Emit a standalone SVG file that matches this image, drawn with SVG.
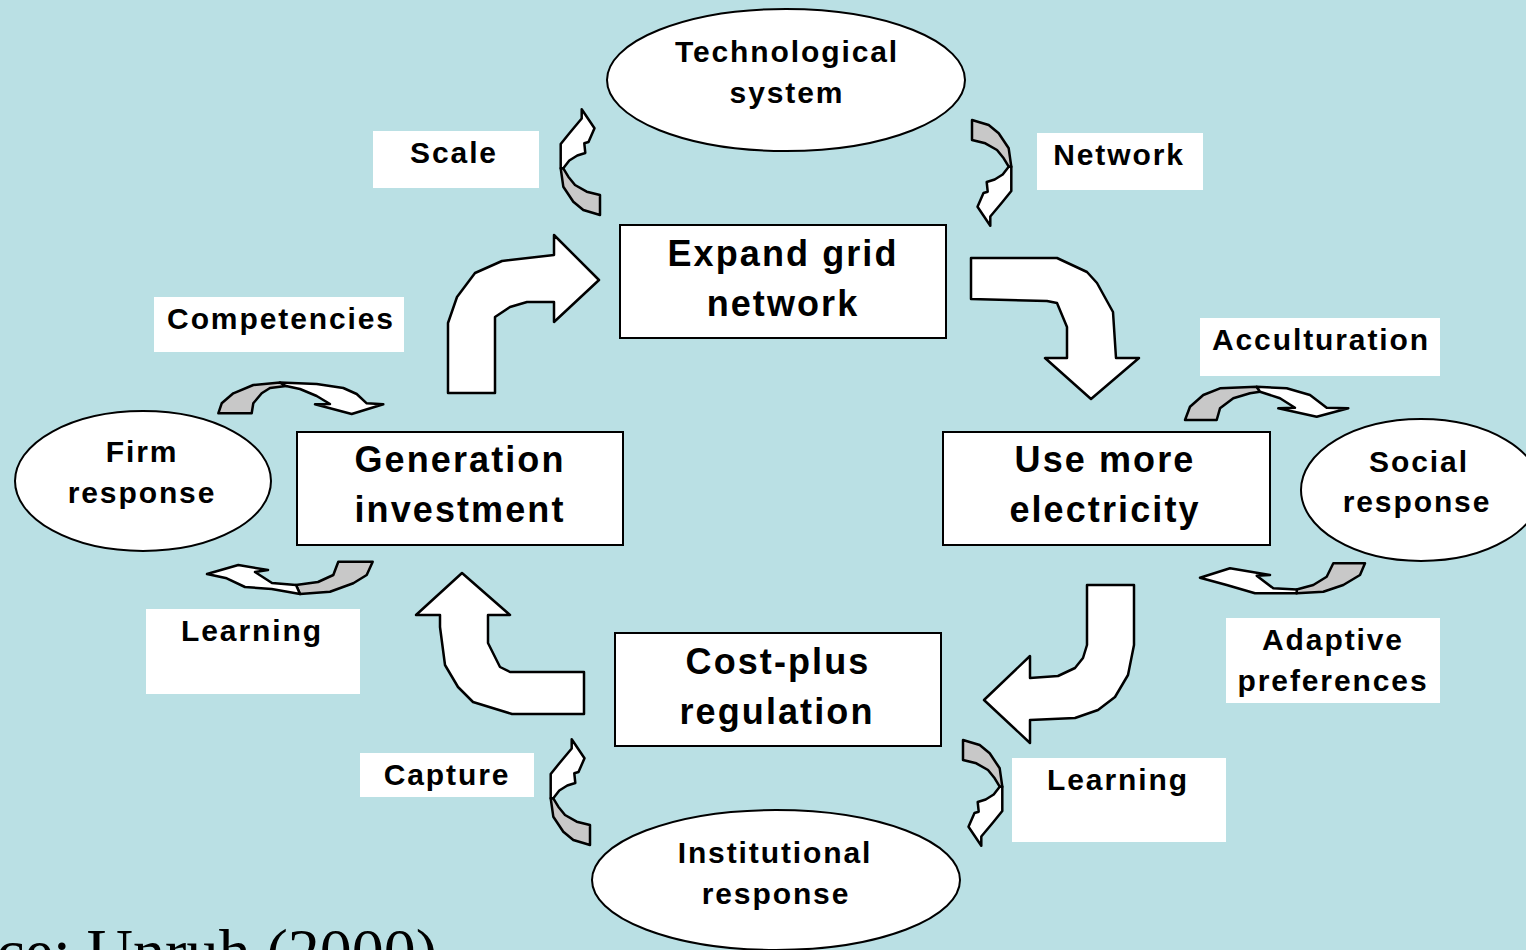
<svg xmlns="http://www.w3.org/2000/svg" width="1526" height="950" viewBox="0 0 1526 950">
<style>
.bg{fill:#BAE0E4}
.box{fill:#fff;stroke:#000;stroke-width:2}
.lbl{fill:#fff}
.ell{fill:#fff;stroke:#000;stroke-width:2}
.big{fill:#fff;stroke:#000;stroke-width:2.5;stroke-linejoin:round}
.cw{fill:#fff;stroke:#000;stroke-width:2.5;stroke-linejoin:round}
.cg{fill:#C8C8C8;stroke:#000;stroke-width:2.5;stroke-linejoin:round}
text{font-family:"Liberation Sans",Arial,sans-serif;font-weight:bold;fill:#000;text-anchor:middle}
.t30{font-size:30px;letter-spacing:1.9px}
.t36{font-size:36px;letter-spacing:2.1px}
.src{font-family:"Liberation Serif","Times New Roman",serif;font-weight:normal;font-size:64px;text-anchor:end;letter-spacing:0}
</style>
<defs>
<g id="curl">
<polygon class="cg" points="0.7,59.3 3.3,77.7 13.3,92.7 23.3,101 40,106 40,86 26.7,82.7 15,76 8.3,67.7 3.3,59.3"/>
<polygon class="cw" points="21.7,0.3 34.5,19.3 28.5,33 24.3,34.3 25.3,44 17.3,46.5 9.3,51.5 3.3,59.3 0.7,59.3 0.7,35 10,23.5 21.7,9.5"/>
</g>
</defs>
<rect class="bg" x="0" y="0" width="1526" height="950"/>

<g id="connectors">
<path class="big" d="M448,393 L448,323 L457,297 L475,273 L502,261 L554,255 L554,235 L599,280 L554,322 L554,302 L527,302 L510,307 L495,317 L495,393 Z"/>
<path class="big" d="M971,258 L1057,258 L1087,272 L1097,283 L1113,312 L1116,358 L1139,358 L1091,399 L1045,358 L1067,358 L1067,327 L1057,303 L1047,301 L971,299 Z"/>
<path class="big" d="M1087,585 L1134,585 L1134,645 L1128,675 L1115,697 L1098,710 L1075,718 L1030,720 L1030,743 L984,700 L1030,656 L1030,678 L1058,676 L1075,668 L1083,658 L1087,645 Z"/>
<path class="big" d="M584,672 L584,714 L512,714 L473,702 L458,687 L445,665 L440,627 L440,615 L416,615 L462,573 L510,615 L488,615 L488,643 L500,667 L510,672 Z"/>
<use href="#curl" transform="translate(560,109)"/>
<use href="#curl" transform="translate(550,739)"/>
<use href="#curl" transform="translate(1012,226) rotate(180)"/>
<use href="#curl" transform="translate(1003,846) rotate(180)"/>
<g id="firm-top">
<polygon class="cg" points="218.3,413.3 221.7,403.3 233.3,393.3 253.3,385 280,382.5 286,386 270,388 261.7,393.3 253.3,403.3 251.7,413.3"/>
<polygon class="cw" points="280,382.5 316.7,384 343.3,388 356.7,394 366.7,403.3 383.3,404.3 351.7,414 315,404.3 330,404 316.7,396 300,389 286,386"/>
</g>
<g id="firm-bottom">
<polygon class="cg" points="338.3,561.7 372.7,561.7 366.7,575 353.3,583.3 330,591.7 300,594 296,585 318,582 333.3,575"/>
<polygon class="cw" points="300,594 271.7,589 245,587 226.7,578.3 207,574 238.3,565 268,570 255,572 272,583 296,585"/>
</g>
<g id="social-top">
<polygon class="cg" points="1185,420 1190,406.7 1203.3,395 1220,388.3 1256.7,386.7 1260,391.7 1250,393.3 1233.3,398.3 1220,408.3 1216.7,420"/>
<polygon class="cw" points="1256.7,386.7 1286.7,388.3 1310,395 1326.7,407.7 1348.3,408.3 1316.7,416.7 1278.3,408.3 1295,407.7 1280,398.3 1260,391.7"/>
</g>
<g id="social-bottom">
<polygon class="cg" points="1333.3,563.3 1365,563.3 1360,575 1343.3,585 1323.3,591.7 1296.7,593.3 1296.7,589.5 1313.3,585 1326.7,576.7"/>
<polygon class="cw" points="1296.7,593.3 1255,593.3 1226.7,585 1200,577.7 1230,568.3 1270,575 1256.7,575.7 1273.3,588.3 1296.7,589.5"/>
</g>
</g>

<g id="tech-system">
<ellipse class="ell" cx="786" cy="80" rx="179" ry="71"/>
<text class="t30" x="787" y="62">Technological</text>
<text class="t30" x="787" y="103">system</text>
</g>
<g id="firm-response">
<ellipse class="ell" cx="143" cy="481" rx="128" ry="70"/>
<text class="t30" x="142" y="462">Firm</text>
<text class="t30" x="142" y="503">response</text>
</g>
<g id="social-response">
<ellipse class="ell" cx="1421" cy="490" rx="120" ry="71"/>
<text class="t30" x="1419" y="472">Social</text>
<text class="t30" x="1417" y="512">response</text>
</g>
<g id="institutional-response">
<ellipse class="ell" cx="776" cy="880" rx="184" ry="70"/>
<text class="t30" x="775" y="863">Institutional</text>
<text class="t30" x="776" y="904">response</text>
</g>

<g id="expand-grid">
<rect class="box" x="620" y="225" width="326" height="113"/>
<text class="t36" x="783" y="266">Expand grid</text>
<text class="t36" x="783" y="316">network</text>
</g>
<g id="generation">
<rect class="box" x="297" y="432" width="326" height="113"/>
<text class="t36" x="460" y="472">Generation</text>
<text class="t36" x="460" y="522">investment</text>
</g>
<g id="use-more">
<rect class="box" x="943" y="432" width="327" height="113"/>
<text class="t36" x="1105" y="472">Use more</text>
<text class="t36" x="1105" y="522">electricity</text>
</g>
<g id="cost-plus">
<rect class="box" x="615" y="633" width="326" height="113"/>
<text class="t36" x="778" y="674">Cost-plus</text>
<text class="t36" x="777" y="724">regulation</text>
</g>

<g id="label-scale"><rect class="lbl" x="373" y="131" width="166" height="57"/><text class="t30" x="454" y="163">Scale</text></g>
<g id="label-network"><rect class="lbl" x="1037" y="133" width="166" height="57"/><text class="t30" x="1119" y="165">Network</text></g>
<g id="label-competencies"><rect class="lbl" x="154" y="297" width="250" height="55"/><text class="t30" x="281" y="329">Competencies</text></g>
<g id="label-acculturation"><rect class="lbl" x="1200" y="318" width="240" height="58"/><text class="t30" x="1321" y="350">Acculturation</text></g>
<g id="label-learning-left"><rect class="lbl" x="146" y="609" width="214" height="85"/><text class="t30" x="252" y="641">Learning</text></g>
<g id="label-adaptive"><rect class="lbl" x="1226" y="618" width="214" height="85"/><text class="t30" x="1333" y="650">Adaptive</text><text class="t30" x="1333" y="691">preferences</text></g>
<g id="label-capture"><rect class="lbl" x="360" y="753" width="174" height="44"/><text class="t30" x="447" y="785">Capture</text></g>
<g id="label-learning-right"><rect class="lbl" x="1012" y="758" width="214" height="84"/><text class="t30" x="1118" y="790">Learning</text></g>

<text class="src" x="437" y="973">Source: Unruh (2000)</text>
</svg>
